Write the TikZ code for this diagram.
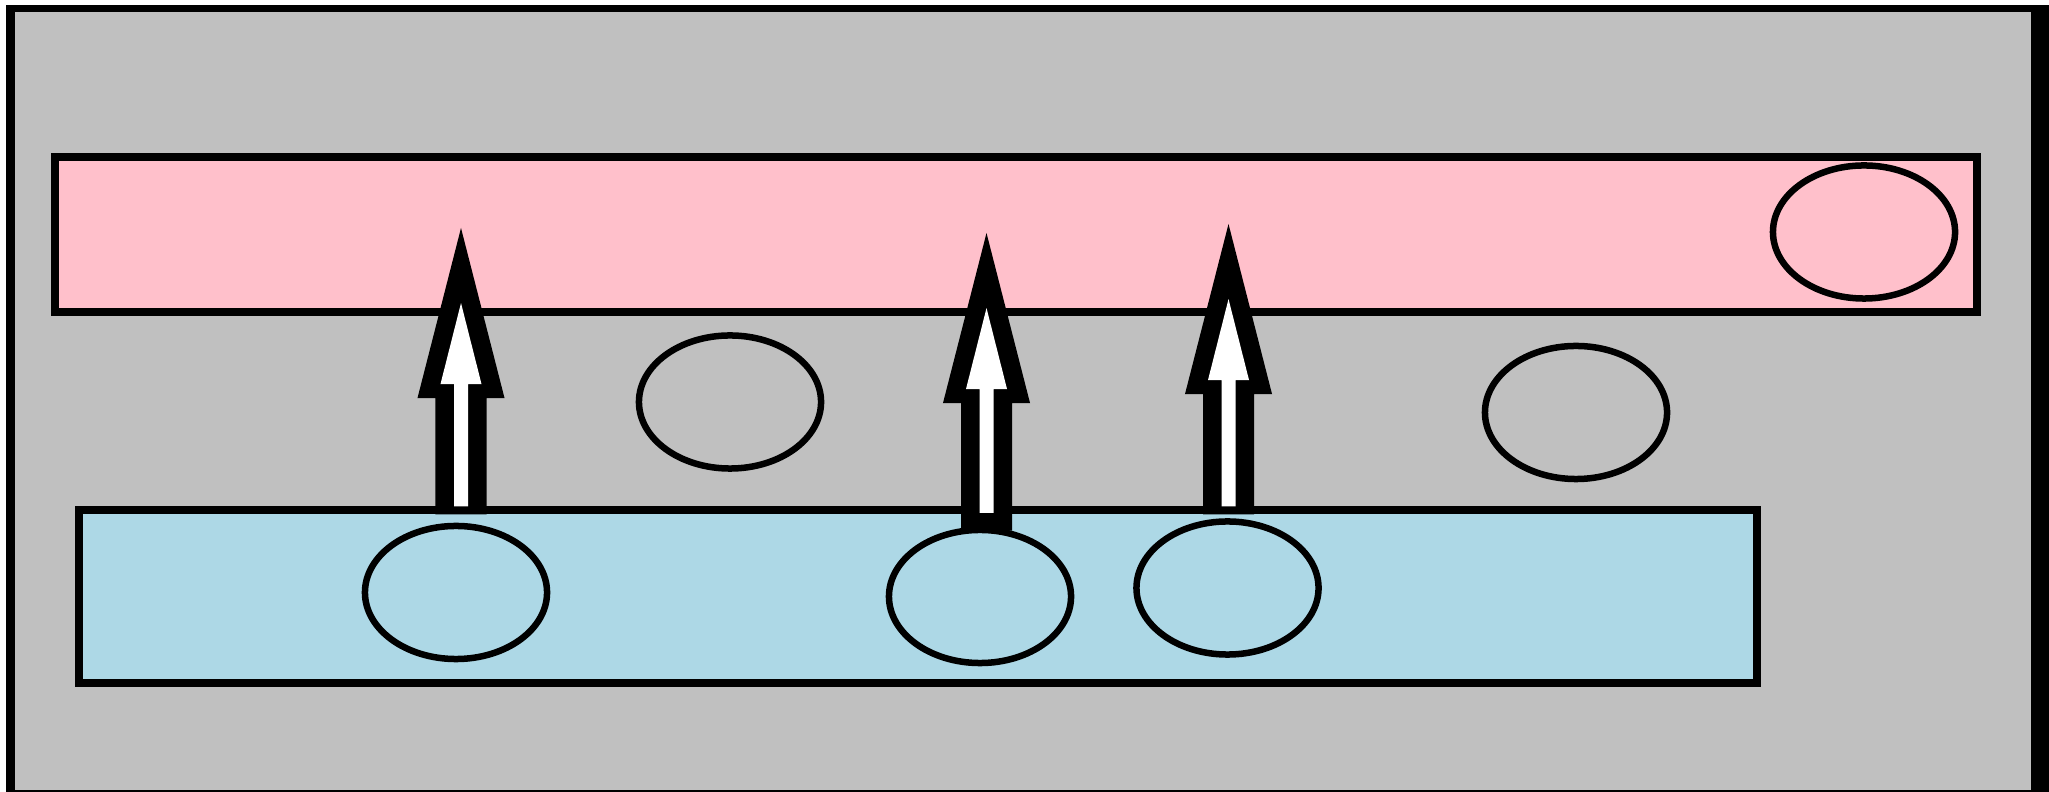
\documentclass[tikz,border=0pt]{standalone}
\usetikzlibrary{calc,shapes.geometric}
\definecolor{bggray}{RGB}{192,192,192}
\definecolor{barpink}{RGB}{255,192,203}
\definecolor{barblue}{RGB}{173,216,230}
\tikzset{
  bar/.style={draw=black, line width=0.08cm, inner sep=0pt, rectangle},
  oval/.style={draw=black, line width=0.065cm, ellipse, inner sep=0pt, minimum width=1.82cm, minimum height=1.33cm},
  arrowouter/.style={fill=black, draw=none, to path={
    let \p1=(\tikztostart), \p2=(\tikztotarget) in
    (\x1-0.255cm,\y1) -- (\x1-0.255cm,\y2-1.7cm) -- (\x1-0.435cm,\y2-1.7cm) -- (\x2,\y2)
    -- (\x1+0.435cm,\y2-1.7cm) -- (\x1+0.255cm,\y2-1.7cm) -- (\x1+0.255cm,\y1) -- cycle}},
  arrowinner/.style={fill=white, draw=none, to path={
    let \p1=(\tikztostart), \p2=(\tikztotarget) in
    (\x1-0.07cm,\y1+0.08cm) -- (\x1-0.07cm,\y2-1.56cm) -- (\x1-0.205cm,\y2-1.56cm) -- (\x2,\y2-0.75cm)
    -- (\x1+0.205cm,\y2-1.56cm) -- (\x1+0.07cm,\y2-1.56cm) -- (\x1+0.07cm,\y1+0.08cm) -- cycle}}
}
\begin{document}
\begin{tikzpicture}[x=0.01cm,y=-0.01cm]
\useasboundingbox (0,0) rectangle (2049,792);
% frame
\fill[white] (0,0) rectangle (2049,792);
\fill[black] (6,5) rectangle (2049,792);
\fill[bggray] (15,12) rectangle (2031,790);
% bars
\node[bar, fill=barpink, minimum width=19.2cm, minimum height=1.55cm] (pink) at (1016,234.5) {};
\node[bar, fill=barblue, minimum width=16.775cm, minimum height=1.72cm] (blue) at (917.75,596.5) {};
% ovals
\node[oval] (pe) at (1864,232) {};
\node[oval] (g1) at (730,402) {};
\node[oval] (g2) at (1576,412.5) {};
\node[oval] (b1) at (456,592.5) {};
\node[oval] (b2) at (980,596.5) {};
\node[oval] (b3) at (1227.5,588) {};
% arrow anchors
\coordinate (s1) at ($(461,0 |- blue.north)+(0,8)$);
\coordinate (t1) at (461,228);
\coordinate (s2) at ($(986.5,0 |- b2.north)+(0,4)$);
\coordinate (w2) at (986.5,521);
\coordinate (t2) at (986.5,233);
\coordinate (s3) at ($(1228.5,0 |- blue.north)+(0,8)$);
\coordinate (t3) at (1228.5,224);
% arrows
\path[arrowouter] (s1) to (t1);
\path[arrowinner] (s1) to (t1);
\path[arrowouter] (s2) to (t2);
\path[arrowinner] (w2) to (t2);
\path[arrowouter] (s3) to (t3);
\path[arrowinner] (s3) to (t3);
\end{tikzpicture}
\end{document}
